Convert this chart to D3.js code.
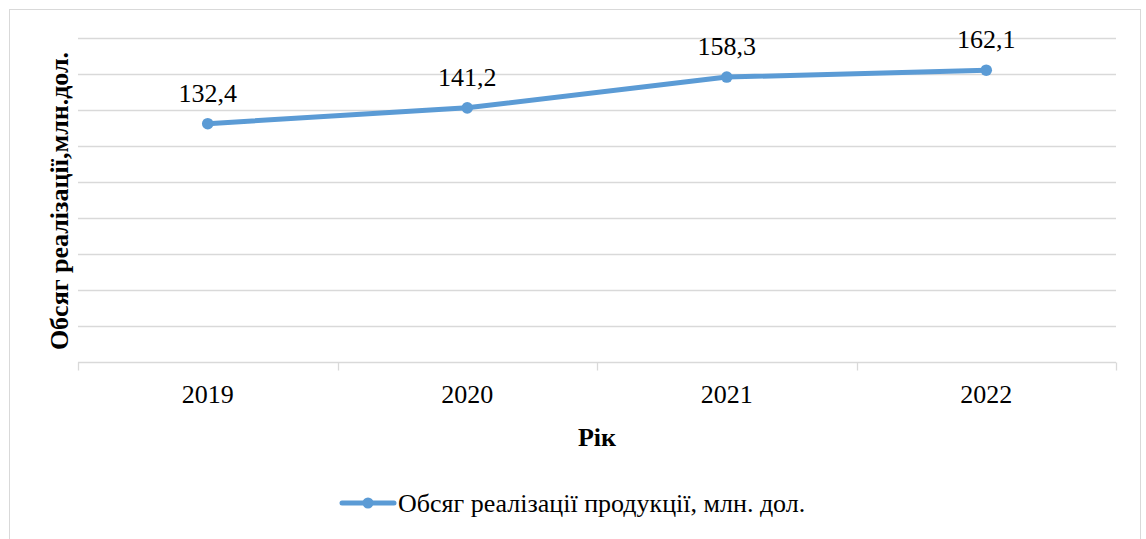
<!DOCTYPE html>
<html><head><meta charset="utf-8">
<script src="https://cdn.jsdelivr.net/npm/d3@7"></script>
<style>body{margin:0;background:#fff;}svg{display:block;}</style>
</head><body>
<script>
const years = ["2019","2020","2021","2022"];
const values = [132.4,141.2,158.3,162.1];
const labels = ["132,4","141,2","158,3","162,1"];
const yTicks = [20,40,60,80,100,120,140,160,180];
const seriesName = "Обсяг реалізації продукції, млн. дол.";
const yTitle = "Обсяг реалізації,млн.дол.";
const xTitle = "Рік";

const W=1146,H=539;
const FONT='"Liberation Serif", "Times New Roman", serif';
const svg=d3.select("body").append("svg").attr("width",W).attr("height",H);
const color="#5b9bd5";

svg.append("rect").attr("x",9.5).attr("y",9.5).attr("width",1131).attr("height",540)
  .attr("fill","#fff").attr("stroke","#d9d9d9").attr("stroke-width",1);

const x=d3.scaleBand().domain(years).range([78,1116]);
const y=d3.scaleLinear().domain([0,180]).range([362,38]);

svg.append("g").selectAll("line").data(yTicks).join("line")
  .attr("x1",78).attr("x2",1116).attr("y1",d=>Math.round(y(d))+0.5).attr("y2",d=>Math.round(y(d))+0.5)
  .attr("stroke","#d9d9d9").attr("stroke-width",1.3);

const xAxis=svg.append("g").attr("transform","translate(0,362.5)")
  .call(d3.axisBottom(x).tickSize(0).tickPadding(0));
xAxis.select(".domain").remove();
xAxis.append("line").attr("x1",78).attr("x2",1116).attr("stroke","#d9d9d9").attr("stroke-width",1.3);
const bounds=[...years.map(d=>x(d)),x.range()[1]];
xAxis.selectAll(".bt").data(bounds).join("line").attr("class","bt")
  .attr("x1",d=>Math.round(d)+0.5).attr("x2",d=>Math.round(d)+0.5).attr("y1",0).attr("y2",8)
  .attr("stroke","#d9d9d9").attr("stroke-width",1.3);
xAxis.selectAll(".tick text").attr("y",40.5).attr("dy",null)
  .style("font-family",FONT).style("font-size","26px").attr("fill","#000");

const cx=d=>x(d)+x.bandwidth()/2;
const line=d3.line().x((d,i)=>cx(years[i])).y(d=>y(d));
svg.append("path").datum(values).attr("d",line).attr("fill","none")
  .attr("stroke",color).attr("stroke-width",5).attr("stroke-linecap","round").attr("stroke-linejoin","round");
svg.append("g").selectAll("circle").data(values).join("circle")
  .attr("cx",(d,i)=>cx(years[i])).attr("cy",d=>y(d)).attr("r",5.8).attr("fill",color);
svg.append("g").selectAll("text").data(values).join("text")
  .attr("x",(d,i)=>cx(years[i])).attr("y",d=>y(d)-22).attr("text-anchor","middle")
  .style("font-family",FONT).style("font-size","26px").attr("fill","#000")
  .text((d,i)=>labels[i]);

svg.append("text").attr("transform","translate(68,201) rotate(-90)").attr("text-anchor","middle")
  .style("font-family",FONT).style("font-size","26px").style("font-weight","bold").text(yTitle);
svg.append("text").attr("x",597).attr("y",446).attr("text-anchor","middle")
  .style("font-family",FONT).style("font-size","26px").style("font-weight","bold").text(xTitle);

const lg=svg.append("g").attr("transform","translate(0,503)");
lg.append("line").attr("x1",342).attr("x2",394).attr("y1",0).attr("y2",0).attr("stroke",color).attr("stroke-width",5).attr("stroke-linecap","round");
lg.append("circle").attr("cx",368).attr("cy",0).attr("r",5.5).attr("fill",color);
lg.append("text").attr("x",398).attr("y",9).style("font-family",FONT).style("font-size","26px").text(seriesName);
</script>
</body></html>
